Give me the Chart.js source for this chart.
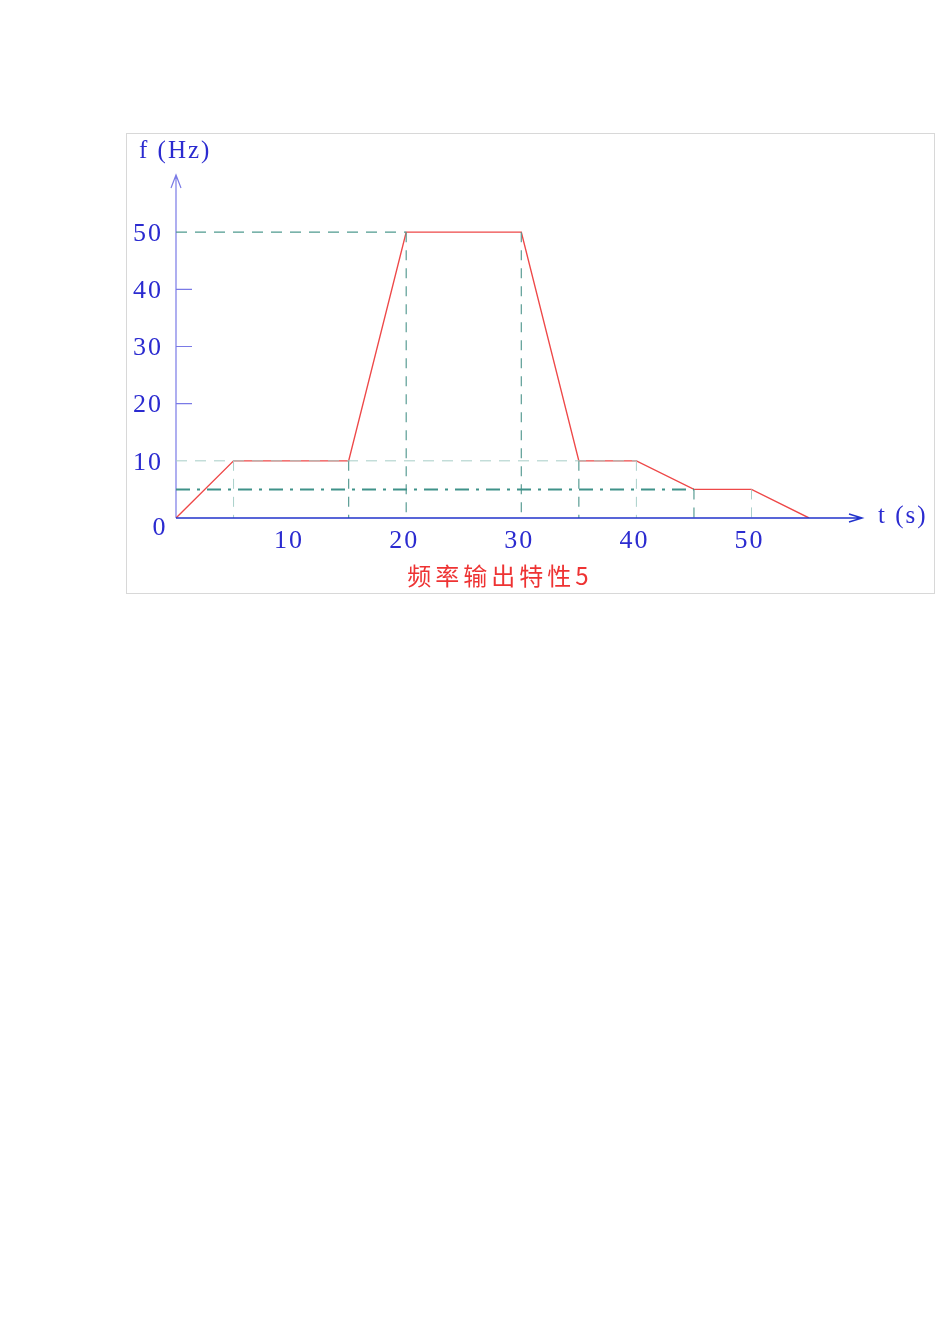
<!DOCTYPE html>
<html>
<head>
<meta charset="utf-8">
<script src="https://cdn.jsdelivr.net/npm/chart.js@4/dist/chart.umd.min.js"></script>
<style>
  html, body { margin: 0; padding: 0; background: #fff; }
  #frame { position: absolute; left: 126px; top: 133px; width: 807px; height: 459px; border: 1px solid #d8d8d8; }
  #c { position: absolute; left: 0; top: 0; }
</style>
</head>
<body>
<div id="frame"></div>
<canvas id="c" width="950" height="1344"></canvas>
<script>
// frequency curve (t in s, f in Hz)
const times = [0, 5, 15, 20, 30, 35, 40, 45, 50, 55];
const freqs = [0, 10, 10, 50, 50, 10, 10, 5, 5, 0];

// guide lines
const guideLevels = [50, 10, 5];
const guideEnds = [20, 40, 45];
const darkDrops = [15, 20, 30, 35, 45];
const lightDrops = [5, 40, 50];

const xTicks = [10, 20, 30, 40, 50];
const yTicks = [10, 20, 30, 40, 50];
const title = '频率输出特性5';

const blue = '#2b2bd0';

function curveAt(t) {
  return freqs[times.indexOf(t)];
}

function dropData(ts) {
  const out = [];
  ts.forEach(t => {
    out.push({x: t, y: curveAt(t)});
    out.push({x: t, y: 0});
    out.push({x: t, y: null});
  });
  return out;
}

const curve = times.map((t, i) => ({x: t, y: freqs[i]}));

const axesPlugin = {
  id: 'axes',
  beforeDatasetsDraw(chart) {
    const ctx = chart.ctx;
    const xs = chart.scales.x, ys = chart.scales.y;
    const x0 = xs.getPixelForValue(0), y0 = ys.getPixelForValue(0);
    const yTop = ys.top;
    ctx.save();
    // y axis
    ctx.strokeStyle = '#7a7ae6';
    ctx.lineWidth = 1.2;
    ctx.beginPath();
    ctx.moveTo(x0, y0); ctx.lineTo(x0, yTop);
    ctx.moveTo(x0 - 5, yTop + 13); ctx.lineTo(x0, yTop); ctx.lineTo(x0 + 5, yTop + 13);
    [20, 30, 40].forEach(v => {
      const y = ys.getPixelForValue(v);
      ctx.moveTo(x0, y); ctx.lineTo(x0 + 16, y);
    });
    ctx.stroke();
    ctx.restore();
  },
  afterDraw(chart) {
    const ctx = chart.ctx;
    const xs = chart.scales.x, ys = chart.scales.y;
    const x0 = xs.getPixelForValue(0), y0 = ys.getPixelForValue(0);
    const xEnd = xs.right;
    ctx.save();
    // x axis
    ctx.strokeStyle = '#2233cc';
    ctx.lineWidth = 1.5;
    ctx.beginPath();
    ctx.moveTo(x0, y0); ctx.lineTo(xEnd, y0);
    ctx.moveTo(xEnd - 13, y0 - 4); ctx.lineTo(xEnd, y0); ctx.lineTo(xEnd - 13, y0 + 4);
    ctx.stroke();

    ctx.fillStyle = blue;
    ctx.font = '26px "Liberation Serif"';
    ctx.letterSpacing = '2px';
    ctx.textBaseline = 'middle';
    ctx.textAlign = 'right';
    yTicks.forEach(v => ctx.fillText(String(v), 163, ys.getPixelForValue(v) + 2));
    ctx.textAlign = 'center';
    ctx.fillText('0', x0 - 16, y0 + 10);
    xTicks.forEach(v => ctx.fillText(String(v), xs.getPixelForValue(v) - 2, y0 + 23));

    ctx.textAlign = 'left';
    ctx.font = '25px "Liberation Serif"';
    ctx.fillText('f (Hz)', 139, 151);
    ctx.fillText('t (s)', xEnd + 16, y0 - 2);

    ctx.fillStyle = '#ee3333';
    ctx.font = '24px "Noto Sans CJK SC"';
    ctx.letterSpacing = '4px';
    ctx.textAlign = 'center';
    ctx.fillText(title, 500, 576);
    ctx.restore();
  }
};

new Chart(document.getElementById('c'), {
  type: 'line',
  data: {
    datasets: [
      {
        data: [{x: 0, y: guideLevels[0]}, {x: guideEnds[0], y: guideLevels[0]}],
        borderColor: '#4f9a8f', borderWidth: 1.2, borderDash: [11, 8]
      },
      {
        data: [{x: 0, y: guideLevels[1]}, {x: guideEnds[1], y: guideLevels[1]}],
        borderColor: '#a6cdc6', borderWidth: 1, borderDash: [11, 8]
      },
      {
        data: [{x: 0, y: guideLevels[2]}, {x: guideEnds[2], y: guideLevels[2]}],
        borderColor: '#3f9289', borderWidth: 2, borderDash: [14, 7, 3, 7]
      },
      {
        data: dropData(darkDrops),
        borderColor: '#5a9d94', borderWidth: 1.2, borderDash: [10, 8], spanGaps: false
      },
      {
        data: dropData(lightDrops),
        borderColor: '#a9d0ca', borderWidth: 1, borderDash: [10, 8], spanGaps: false
      },
      {
        data: curve,
        borderColor: '#ee4848', borderWidth: 1.4
      }
    ]
  },
  options: {
    responsive: false,
    animation: false,
    events: [],
    layout: { padding: { left: 176, right: 88, top: 175, bottom: 826 } },
    elements: { point: { radius: 0 }, line: { tension: 0, fill: false } },
    plugins: { legend: { display: false }, tooltip: { enabled: false } },
    scales: {
      x: { type: 'linear', min: 0, max: 59.6, display: false },
      y: { type: 'linear', min: 0, max: 60, display: false }
    }
  },
  plugins: [axesPlugin]
});
</script>
</body>
</html>
